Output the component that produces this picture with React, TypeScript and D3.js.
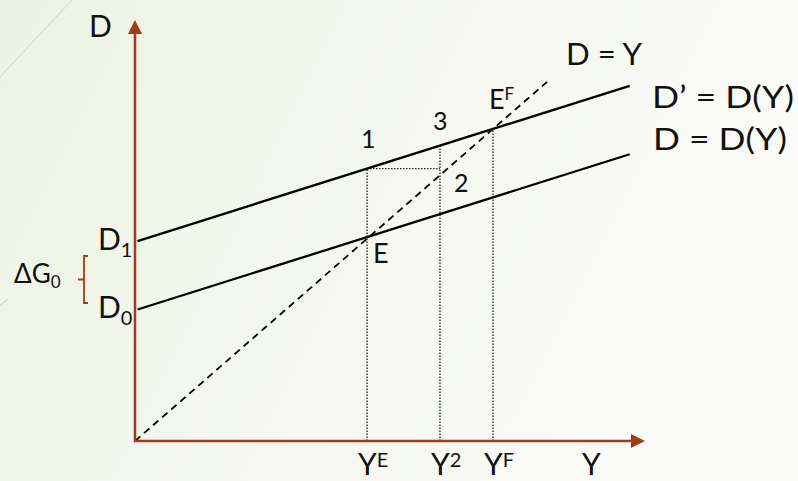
import React from 'react';
import * as d3 from 'd3';

const W = 798;
const H = 481;

// aggregate demand lines: D = intercept + mpc * Y
const intercepts = [29.4, 44.8];
const interceptSubs = ['0', '1'];
const mpc = 0.362;
const lineStart = 0.5;
const lineEnd = 97;
const diagonalEnd = 80.8;

// output levels marked on the Y axis
const markerY = [45.5, 59.8, 70.2];
const markerSups = ['E', '2', 'F'];

const axisColor = '#a33a1c';
const font = 'Lato, "Open Sans", sans-serif';

const App = () => {
  const x = d3.scaleLinear().domain([0, 100]).range([135, 645]);
  const y = d3.scaleLinear().domain([0, 100]).range([441, -3.5]);

  const demand = (b: number) => (v: number) => b + mpc * v;
  const line = d3.line<[number, number]>().x(d => x(d[0])).y(d => y(d[1]));

  const d1 = demand(intercepts[1]);
  const yTop = y(94.7);
  const xEnd = x(100);

  return (
    <svg width={W} height={H} style={{ position: 'fixed', left: 0, top: 0 }} fontFamily={font}>
      <defs>
        <linearGradient id="bg" x1="0" x2="1" y1="0" y2="0.3">
          <stop offset="0" stopColor="#edf3e3" />
          <stop offset="0.6" stopColor="#f6f8f1" />
          <stop offset="1" stopColor="#fbfbf8" />
        </linearGradient>
      </defs>
      <rect width={W} height={H} fill="url(#bg)" />
      {/* faint slide decoration */}
      <line x1={0} y1={77} x2={72} y2={0} stroke="#cfd3c6" strokeWidth={1} />
      <line x1={0} y1={306} x2={8} y2={299} stroke="#bfc3b6" strokeWidth={1} />

      {/* dotted guides */}
      {markerY.map((v, i) => (
        <line key={'v' + i} x1={x(v)} x2={x(v)} y1={y(0)} y2={y(d1(v))}
          stroke="#222" strokeWidth={1.3} strokeDasharray="1.5,1.5" />
      ))}
      <line x1={x(markerY[0])} x2={x(markerY[1])} y1={y(d1(markerY[0]))} y2={y(d1(markerY[0]))}
        stroke="#222" strokeWidth={1.3} strokeDasharray="1.5,1.5" />

      {/* 45 degree line */}
      <path d={line([[0, 0], [diagonalEnd, diagonalEnd]]) || ''} stroke="#000" strokeWidth={1.8}
        strokeDasharray="7,5" fill="none" />

      {/* demand lines */}
      {intercepts.map((b, i) => (
        <path key={'d' + i} d={line([[lineStart, demand(b)(lineStart)], [lineEnd, demand(b)(lineEnd)]]) || ''}
          stroke="#000" strokeWidth={2.3} fill="none" />
      ))}

      {/* axes */}
      <line x1={x(0)} x2={x(0)} y1={y(0) + 1} y2={yTop + 12} stroke={axisColor} strokeWidth={2.5} />
      <path d={`M${x(0)},${yTop} L${x(0) - 7},${yTop + 14} L${x(0) + 7},${yTop + 14} Z`} fill={axisColor} />
      <line x1={x(0) - 1} x2={xEnd - 12} y1={y(0)} y2={y(0)} stroke={axisColor} strokeWidth={2.5} />
      <path d={`M${xEnd},${y(0)} L${xEnd - 14},${y(0) - 7} L${xEnd - 14},${y(0) + 7} Z`} fill={axisColor} />

      {/* ΔG0 bracket */}
      <path d="M88,256 L84,256 L84,303 L88,303 M84,279.5 L78,279.5" stroke={axisColor} strokeWidth={1.8} fill="none" />

      <g fill="#111" fontSize={30}>
        <text x={89} y={37}>D</text>
        <text x={566} y={65} textLength={76} lengthAdjust="spacingAndGlyphs">D = Y</text>
        <text x={652} y={108} textLength={142} lengthAdjust="spacingAndGlyphs">D’ = D(Y)</text>
        <text x={653} y={150} textLength={134} lengthAdjust="spacingAndGlyphs">D = D(Y)</text>

        {intercepts.map((b, i) => (
          <text key={'l' + i} x={x(0) - 37} y={y(b) + 8}>D<tspan fontSize={20} dy={7}>{interceptSubs[i]}</tspan></text>
        ))}
        <text x={14} y={283} fontSize={26}>ΔG<tspan fontSize={17} dy={5}>0</tspan></text>

        <text x={x(markerY[0]) - 6} y={148} fontSize={25}>1</text>
        <text x={x(markerY[1]) - 7} y={130} fontSize={25}>3</text>
        <text x={x(markerY[1]) + 14} y={192} fontSize={25}>2</text>
        <text x={x(markerY[0]) + 6} y={263} fontSize={27}>E</text>
        <text x={x(markerY[2]) - 4} y={109} fontSize={27}>E<tspan fontSize={17} dy={-9}>F</tspan></text>

        {markerY.map((v, i) => (
          <text key={'m' + i} x={x(v) - 9} y={475}>Y<tspan fontSize={20} dy={-8}>{markerSups[i]}</tspan></text>
        ))}
        <text x={582} y={475}>Y</text>
      </g>
    </svg>
  );
};

export default App;
